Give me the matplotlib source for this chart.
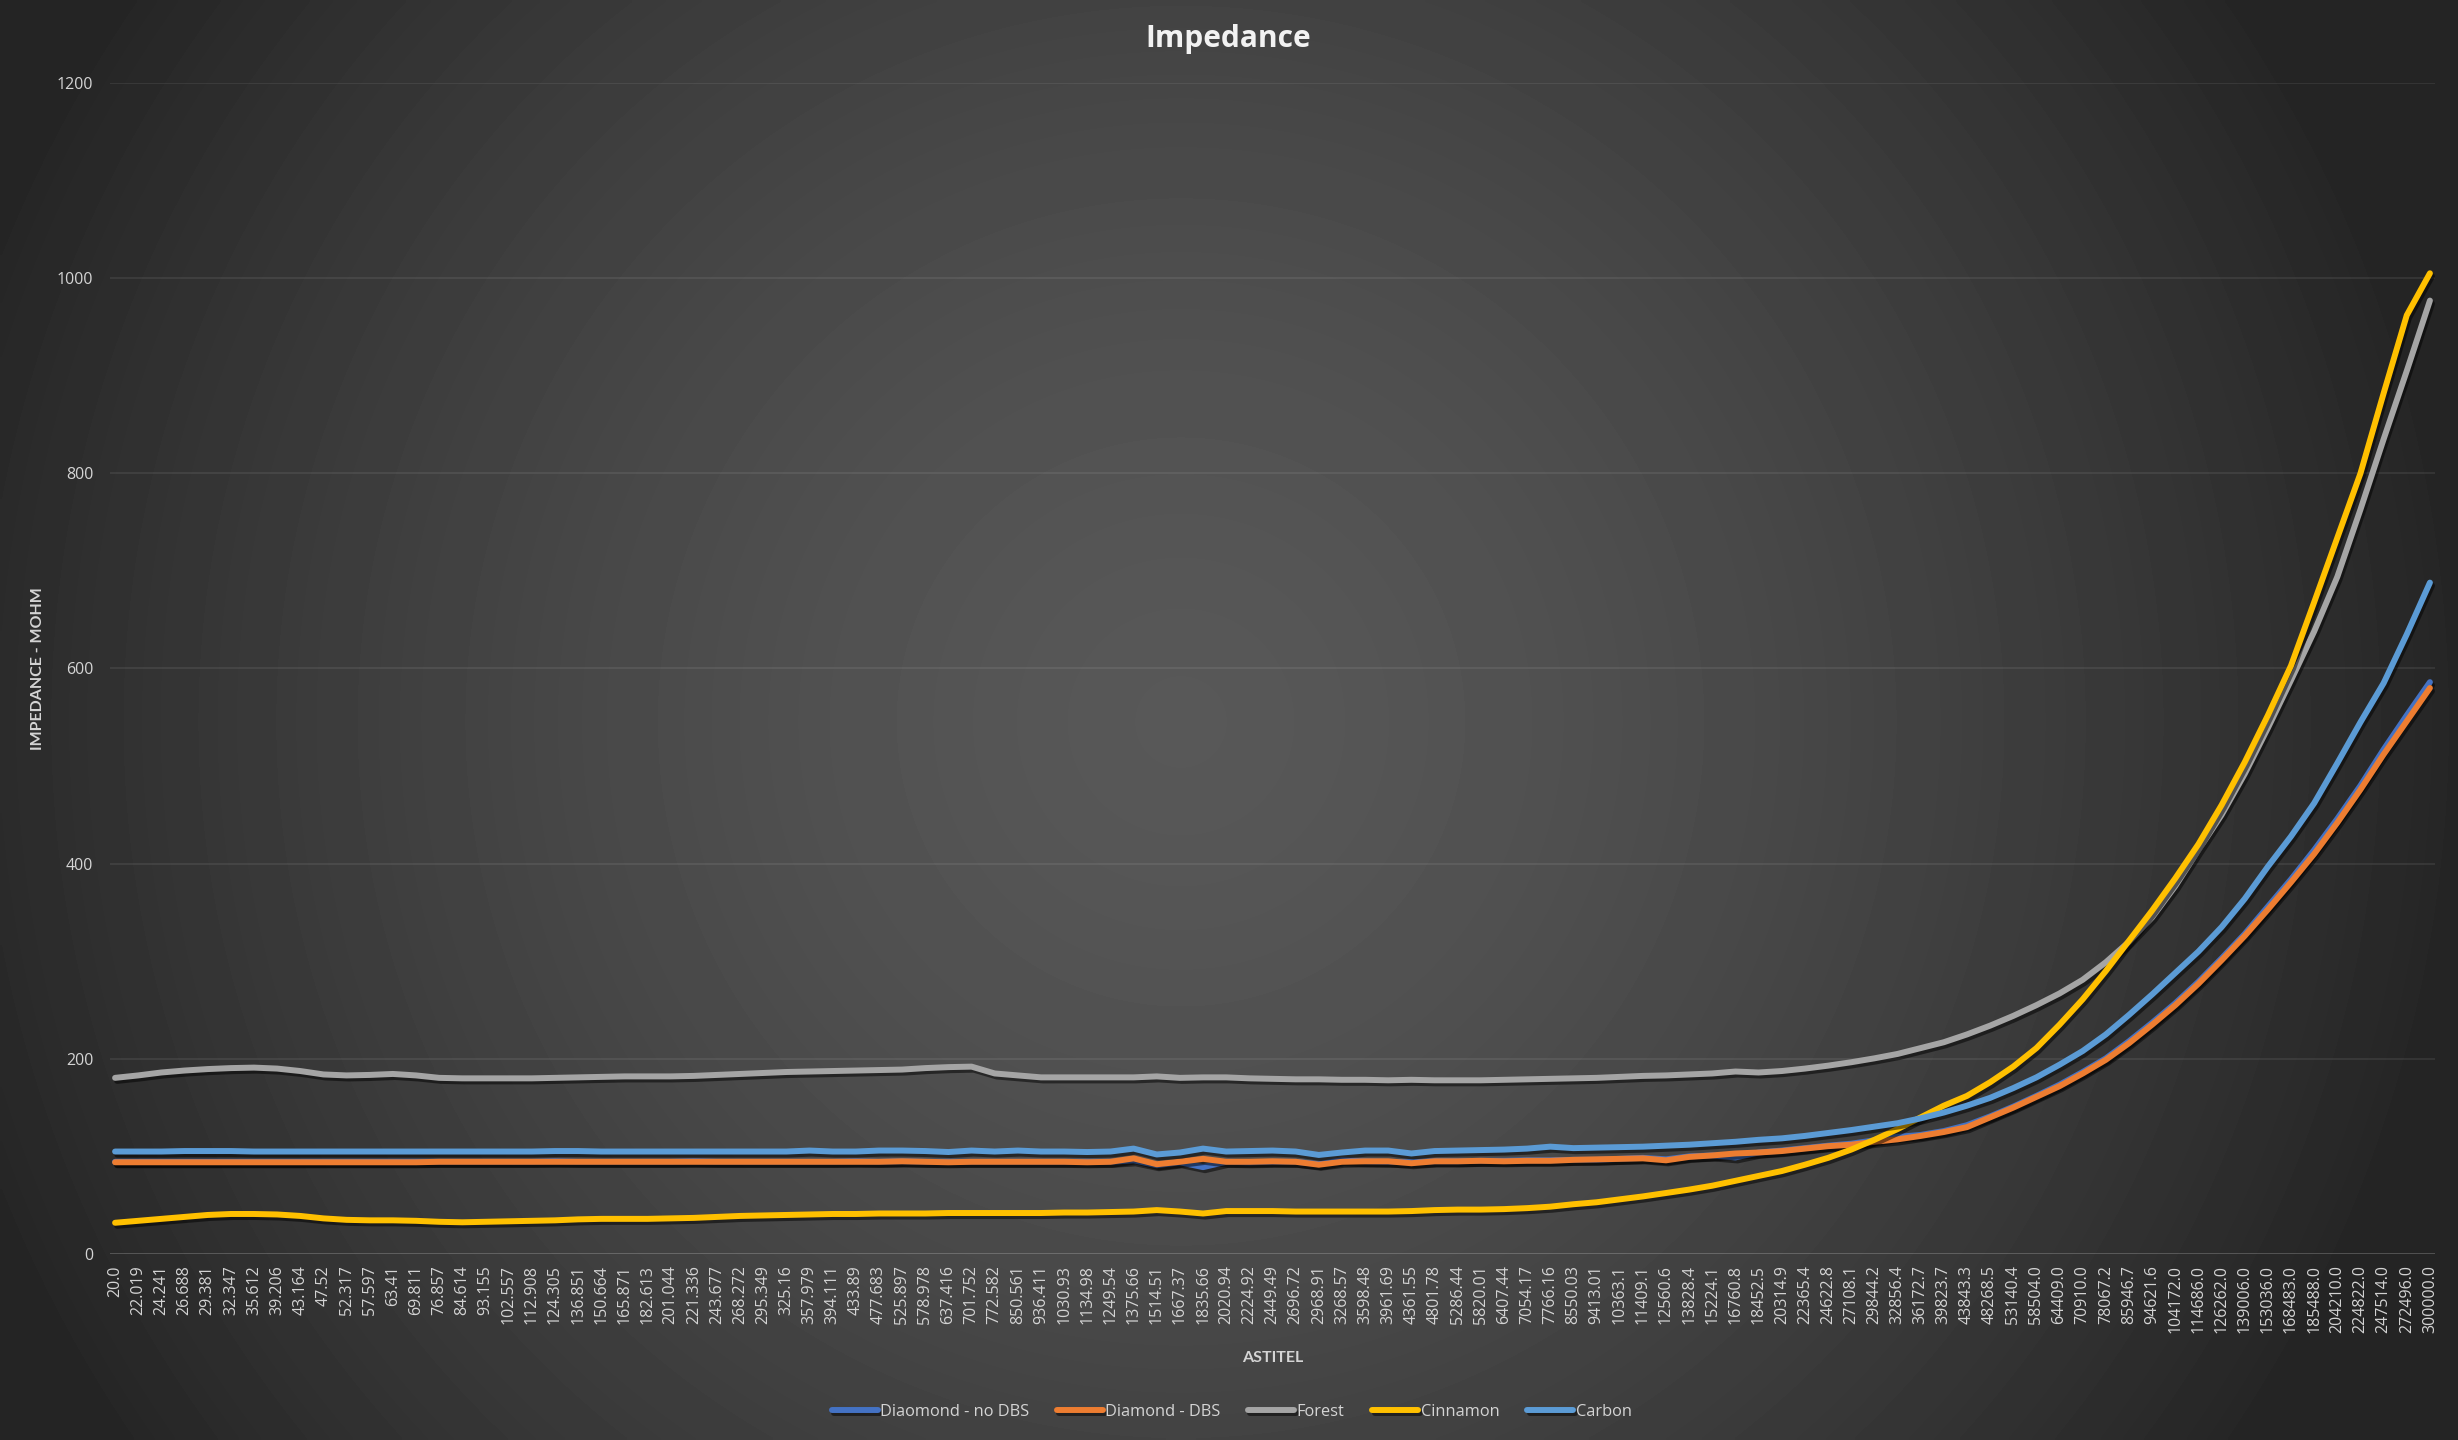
import numpy as np
import matplotlib.pyplot as plt
import matplotlib.patheffects as pe

plt.rcParams['font.family'] = ['Open Sans', 'DejaVu Sans']

# Frequency categories (x axis is categorical, one label per point)
freq_labels = [
    '20.0', '22.019', '24.241', '26.688', '29.381', '32.347', '35.612', '39.206', '43.164', '47.52',
    '52.317', '57.597', '63.41', '69.811', '76.857', '84.614', '93.155', '102.557', '112.908', '124.305',
    '136.851', '150.664', '165.871', '182.613', '201.044', '221.336', '243.677', '268.272', '295.349', '325.16',
    '357.979', '394.111', '433.89', '477.683', '525.897', '578.978', '637.416', '701.752', '772.582', '850.561',
    '936.411', '1030.93', '1134.98', '1249.54', '1375.66', '1514.51', '1667.37', '1835.66', '2020.94', '2224.92',
    '2449.49', '2696.72', '2968.91', '3268.57', '3598.48', '3961.69', '4361.55', '4801.78', '5286.44', '5820.01',
    '6407.44', '7054.17', '7766.16', '8550.03', '9413.01', '10363.1', '11409.1', '12560.6', '13828.4', '15224.1',
    '16760.8', '18452.5', '20314.9', '22365.4', '24622.8', '27108.1', '29844.2', '32856.4', '36172.7', '39823.7',
    '43843.3', '48268.5', '53140.4', '58504.0', '64409.0', '70910.0', '78067.2', '85946.7', '94621.6', '104172.0',
    '114686.0', '126262.0', '139006.0', '153036.0', '168483.0', '185488.0', '204210.0', '224822.0', '247514.0', '272496.0',
    '300000.0',
]

# Impedance readings (MOhm)
diamond_no_dbs = [
    94.5, 94.5, 94.5, 94.5, 94.5, 94.5, 94.5, 94.5, 94.5, 94.5,
    94.5, 94.5, 94.5, 94.5, 94.5, 94.5, 94.5, 94.5, 94.5, 95,
    94.5, 94.5, 94.5, 94.5, 94.5, 95, 94.5, 94.5, 94.5, 94.5,
    94.5, 94.5, 95, 94.5, 95, 94.5, 94.5, 94.5, 94.5, 94.5,
    94.5, 94.5, 94.5, 94.5, 96, 91, 94, 89, 94.5, 94,
    94.5, 94.5, 92, 96, 95, 94.5, 94, 95, 95, 95.5,
    95.5, 96, 96, 96.5, 96.5, 97.5, 98.5, 97, 100, 101,
    99, 104, 106, 108.5, 111, 113, 116.5, 120, 122, 126,
    132, 141, 151, 162, 173.5, 186.5, 200.5, 218, 237, 257,
    279, 303, 328, 356, 384, 414, 446, 480, 517, 552,
    586,
]
diamond_dbs = [
    94, 94, 94, 94, 94, 94, 94, 94, 94, 94,
    94, 94, 94, 94, 94.5, 94.5, 94.5, 94.5, 94.5, 94.5,
    94.5, 94.5, 94.5, 94.5, 94.5, 94.5, 94.5, 94.5, 94.5, 94.5,
    94.5, 94.5, 94.5, 94.5, 95, 94.5, 94, 94.5, 94.5, 94.5,
    94.5, 94.5, 94, 94.5, 98, 92, 94.5, 97.5, 94.5, 94.5,
    95, 94.5, 91.5, 94.5, 95, 95, 93, 95, 95, 95.5,
    95, 95.5, 95.5, 96.5, 97, 97.5, 98, 96, 99.5, 101,
    103, 104, 105.5, 108, 110.5, 112, 115, 117.5, 121, 125,
    130, 140, 150, 161, 172, 185, 199, 216, 235, 255,
    277, 301, 326, 353, 381, 410, 442, 476, 512, 546,
    580,
]
forest = [
    180.5, 183, 186, 188, 189.5, 190.5, 191, 190, 187.5, 184,
    183, 183.5, 184.5, 183, 180.5, 180, 180, 180, 180, 180.5,
    181, 181.5, 182, 182, 182, 182.5, 183.5, 184.5, 185.5, 186.5,
    187, 187.5, 188, 188.5, 189, 190.5, 191.5, 192, 185, 183,
    181, 181, 181, 181, 181, 182, 180.5, 181, 181, 180,
    179.5, 179, 179, 178.5, 178.5, 178, 178.5, 178, 178, 178,
    178.5, 179, 179.5, 180, 180.5, 181.5, 182.5, 183, 184, 185,
    187, 186, 187.5, 190, 193, 196.5, 200.5, 205, 211, 217,
    225, 234, 244, 255, 267, 281, 299, 320, 345, 377,
    414, 450, 492, 539, 588, 638, 694, 763, 835, 905,
    977,
]
cinnamon = [
    32, 34, 36, 38, 40, 41, 41, 40.5, 39, 36.5,
    35, 34.5, 34.5, 34, 33, 32.5, 33, 33.5, 34, 34.5,
    35.5, 36, 36, 36, 36.5, 37, 38, 39, 39.5, 40,
    40.5, 41, 41, 41.5, 41.5, 41.5, 42, 42, 42, 42,
    42, 42.5, 42.5, 43, 43.5, 45, 43.5, 41.5, 44, 44,
    44, 43.5, 43.5, 43.5, 43.5, 43.5, 44, 45, 45.5, 45.5,
    46, 47, 48.5, 51, 53, 56, 59, 62.5, 66, 70,
    75, 80, 85, 91.5, 98.5, 107, 117, 128, 140, 152,
    162, 176, 192, 211, 235, 261, 290, 321, 352, 385,
    420, 460, 504, 552, 603, 668, 734, 800, 882, 962,
    1005,
]
carbon = [
    105, 105, 105, 105.5, 105.5, 105.5, 105, 105, 105, 105,
    105, 105, 105, 105, 105, 105, 105, 105, 105, 105.5,
    105.5, 105, 105, 105, 105, 105, 105, 105, 105, 105,
    106, 105, 105, 106, 106, 105.5, 104.5, 106, 105, 106,
    105, 105, 104.5, 105, 108, 102, 104, 108, 105, 105.5,
    106, 105, 101.5, 104, 106, 106, 103, 105.5, 106, 106.5,
    107, 108, 110, 108.5, 109, 109.5, 110, 111, 112, 113.5,
    115, 117, 118.5, 121, 124, 127, 130.5, 134, 139, 145,
    152, 160, 170, 181, 194, 208, 225, 245, 266, 288,
    310, 335, 364, 397, 428, 462, 503, 545, 585, 635,
    688,
]

series_names = ['Diaomond - no DBS', 'Diamond - DBS', 'Forest', 'Cinnamon', 'Carbon']
series_values = [diamond_no_dbs, diamond_dbs, forest, cinnamon, carbon]
series_colors = ['#4472C4', '#ED7D31', '#A5A5A5', '#FFC000', '#5B9BD5']

text_col = '#d4d4d4'

fig = plt.figure(figsize=(24.58, 14.40), dpi=100)

# dark radial background like the Excel chart style
bg = fig.add_axes([0, 0, 1, 1], zorder=0)
yy, xx = np.mgrid[0:1440:4, 0:2458:4]
dist = np.hypot(xx - 1180, yy - 720)
lum = 88 - 52 * np.clip(dist / 1300, 0, 1) ** 1.5
bg.imshow(lum, cmap='gray', vmin=0, vmax=255, extent=[0, 1, 0, 1],
          aspect='auto', interpolation='bilinear', origin='upper')
bg.axis('off')

ax = fig.add_axes([0.04475, 0.12917, 0.9459, 0.8132], zorder=1)
ax.patch.set_alpha(0)

x = np.arange(len(freq_labels))
shadow = [pe.SimpleLineShadow(offset=(1.5, -2.2), shadow_color='black', alpha=0.5), pe.Normal()]
for name, vals, col in zip(series_names, series_values, series_colors):
    ax.plot(x, vals, color=col, lw=4.3, label=name, solid_capstyle='round',
            solid_joinstyle='round', path_effects=shadow)

ax.set_xlim(-0.22, len(freq_labels) - 1 + 0.22)
ax.set_ylim(0, 1200)
ax.set_yticks(range(0, 1201, 200))
ax.set_xticks(x)
ax.set_xticklabels(freq_labels, rotation=90)
ax.tick_params(axis='both', length=0, colors=text_col, labelsize=11.5)
ax.tick_params(axis='x', pad=8)
ax.tick_params(axis='y', pad=12)
for s in ax.spines.values():
    s.set_visible(False)
ax.grid(axis='y', color='white', alpha=0.09, lw=1.2)
ax.axhline(0, color='white', alpha=0.14, lw=1.4, zorder=0.5)
ax.set_axisbelow(True)

fig.text(0.4996, 0.9674, 'Impedance', ha='center', va='baseline', fontsize=21.5,
         fontweight='bold', color='#f2f2f2')
fig.text(0.5179, 0.0544, 'ASTITEL', ha='center', va='baseline', family=['Lato', 'DejaVu Sans'],
         fontweight='bold', fontsize=11.5, color=text_col)
fig.text(0.0153, 0.536, 'IMPEDANCE - MOHM', rotation=90, ha='center', va='center',
         family=['Lato', 'DejaVu Sans'], fontweight='bold', fontsize=11.5, color=text_col)

handles, labels = ax.get_legend_handles_labels()
fig.legend(handles, labels, loc='center', bbox_to_anchor=(0.5011, 0.0195), ncol=5,
           frameon=False, fontsize=11.8, handlelength=2.8, handletextpad=0.15,
           columnspacing=1.7, labelcolor=text_col)

fig.savefig('out.png', dpi=100)
